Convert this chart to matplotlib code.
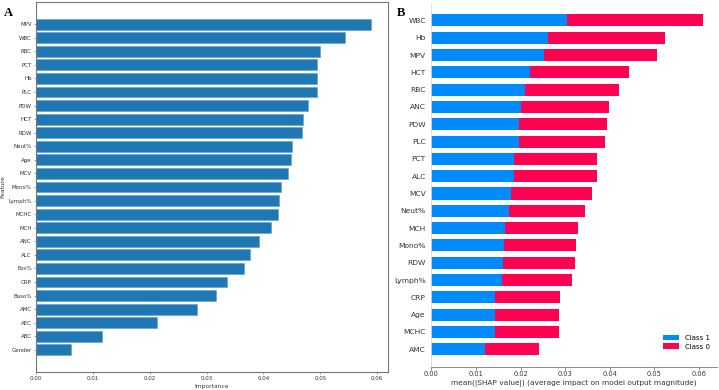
import matplotlib.pyplot as plt
import numpy as np

# Panel A: feature importance
feat_a = ["MPV", "WBC", "RBC", "PCT", "Hb", "PLC", "PDW", "HCT", "RDW", "Neut%",
          "Age", "MCV", "Mono%", "Lymph%", "MCHC", "MCH", "ANC", "ALC", "Eos%",
          "CRP", "Baso%", "AMC", "AEC", "ABC", "Gender"]
imp_a = [0.0590, 0.0543, 0.0499, 0.0495, 0.0494, 0.0494, 0.0479, 0.0469, 0.0467,
         0.0451, 0.0448, 0.0444, 0.0431, 0.0427, 0.0426, 0.0414, 0.0393, 0.0376,
         0.0366, 0.0336, 0.0317, 0.0283, 0.0212, 0.0116, 0.0062]

# Panel B: mean |SHAP| per class
feat_b = ["WBC", "Hb", "MPV", "HCT", "RBC", "ANC", "PDW", "PLC", "PCT", "ALC",
          "MCV", "Neut%", "MCH", "Mono%", "RDW", "Lymph%", "CRP", "Age", "MCHC", "AMC"]
class1 = [0.0305, 0.0262, 0.0252, 0.0222, 0.0210, 0.0200, 0.0196, 0.0196, 0.0185, 0.0185,
          0.0179, 0.0173, 0.0164, 0.0162, 0.0161, 0.0158, 0.0143, 0.0143, 0.0143, 0.0120]
class0 = [0.0304, 0.0262, 0.0253, 0.0222, 0.0211, 0.0198, 0.0198, 0.0194, 0.0186, 0.0186,
          0.0180, 0.0172, 0.0164, 0.0163, 0.0160, 0.0158, 0.0146, 0.0144, 0.0142, 0.0121]

fig = plt.figure(figsize=(7.19, 3.9), dpi=100)

# ---- A ----
ax1 = fig.add_axes([0.050, 0.046, 0.490, 0.949])
ya = np.arange(len(feat_a))
ax1.barh(ya, imp_a[::-1], height=0.8, color="#1f77b4", edgecolor="#5b9fd0", linewidth=0.4)
ax1.set_yticks(ya)
ax1.set_yticklabels(feat_a[::-1], fontsize=4, color="#333333")
ax1.set_xticks([0, 0.01, 0.02, 0.03, 0.04, 0.05, 0.06])
ax1.set_xticklabels(["0.00", "0.01", "0.02", "0.03", "0.04", "0.05", "0.06"],
                    fontsize=4, color="#333333")
ax1.tick_params(length=1.5, width=0.4, pad=1.5, colors="#555555", labelcolor="#333333")
ax1.set_xlabel("Importance", fontsize=4.3, color="#333333", labelpad=2)
ax1.set_ylabel("Feature", fontsize=4.3, color="#333333", labelpad=2)
for s in ax1.spines.values():
    s.set_linewidth(0.8)
    s.set_color("#777777")
fig.text(0.006, 0.958, "A", fontsize=9, fontweight="bold", family="Liberation Serif")

# ---- B ----
ax2 = fig.add_axes([0.600, 0.060, 0.397, 0.932])
yb = np.arange(len(feat_b))[::-1]
ax2.barh(yb, class1, height=0.7, color="#008bfb", label="Class 1")
ax2.barh(yb, class0, left=class1, height=0.7, color="#ff0052", label="Class 0")
ax2.set_ylim(-1, len(feat_b))
ax2.set_xlim(0, 0.064)
ax2.set_yticks(yb)
ax2.set_yticklabels(feat_b, fontsize=5.4, color="#333333")
ax2.set_xticks([0, 0.01, 0.02, 0.03, 0.04, 0.05, 0.06])
ax2.set_xticklabels(["0.00", "0.01", "0.02", "0.03", "0.04", "0.05", "0.06"],
                    fontsize=4.8, color="#333333")
ax2.tick_params(axis="y", length=0, pad=4)
ax2.tick_params(axis="x", length=2, width=0.5, pad=1.5, colors="#555555", labelcolor="#333333")
ax2.spines["top"].set_visible(False)
ax2.spines["right"].set_visible(False)
ax2.spines["left"].set_color("#dddddd")
ax2.spines["left"].set_linewidth(0.6)
ax2.spines["bottom"].set_color("#777777")
ax2.spines["bottom"].set_linewidth(0.6)
ax2.set_xlabel("mean(|SHAP value|) (average impact on model output magnitude)",
               fontsize=5.3, color="#333333", labelpad=1.5)
ax2.legend(loc="lower right", frameon=False, fontsize=5, handlelength=2.3,
           handleheight=0.9, labelspacing=0.35, borderaxespad=0.2,
           bbox_to_anchor=(0.99, 0.035))
fig.text(0.552, 0.958, "B", fontsize=9, fontweight="bold", family="Liberation Serif")

fig.savefig("out.png", dpi=100, facecolor="white")
